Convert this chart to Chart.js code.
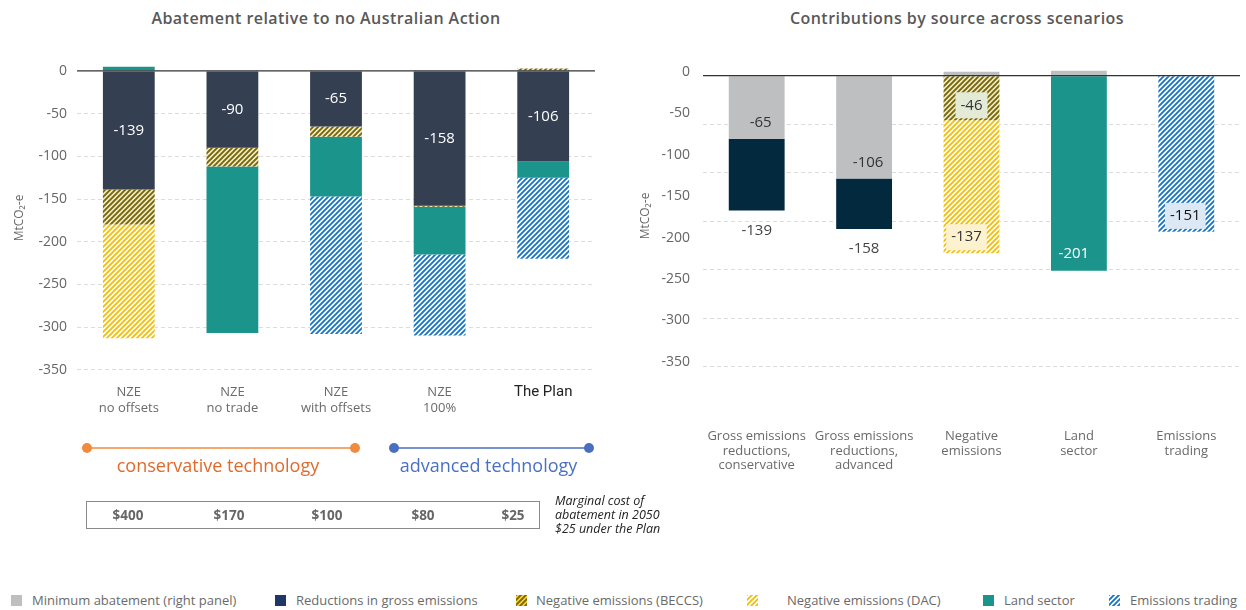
<!DOCTYPE html>
<html><head><meta charset="utf-8">
<script src="https://cdn.jsdelivr.net/npm/chart.js@4.4.1/dist/chart.umd.min.js"></script>
<style>
html,body{margin:0;padding:0;background:#fff;width:1246px;height:610px;overflow:hidden;font-family:"Open Sans",sans-serif;}
#wrap{position:relative;width:1246px;height:610px;}
.abs{position:absolute;}
.title{position:absolute;top:7px;font-size:16px;font-weight:600;color:#585858;white-space:nowrap;transform:translateX(-50%);letter-spacing:0.45px;}
.lg-sw{position:absolute;top:595px;width:11px;height:11px;}
.lg-tx{position:absolute;top:591px;font-size:13px;color:#6a6a6a;white-space:nowrap;line-height:18px;}
</style></head>
<body><div id="wrap">
<div class="title" style="left:326px">Abatement relative to no Australian Action</div>
<div class="title" style="left:957px">Contributions by source across scenarios</div>
<div class="abs" style="left:0;top:0;width:610px;height:430px"><canvas id="left"></canvas></div>
<div class="abs" style="left:620px;top:0;width:626px;height:480px"><canvas id="right"></canvas></div>
<svg class="abs" style="left:0;top:0" width="700" height="560" id="annot"></svg>
<div id="legend"></div>
</div>
<script>
// ---------- DATA ----------
const legendLabels = ["Minimum abatement (right panel)","Reductions in gross emissions","Negative emissions (BECCS)","Negative emissions (DAC)","Land sector","Emissions trading"];

const leftCategories = [["NZE","no offsets"],["NZE","no trade"],["NZE","with offsets"],["NZE","100%"],"The Plan"];
const leftGross   = [-139, -90, -65, -158, -106];
const leftBECCS   = [-41, -22, -12, -1, 3];
const leftDAC     = [-133, null, null, null, null];
const leftLand    = [5, -195, -70, -56, -19];
const leftTrading = [null, null, -161, -95, -95];
const leftTickValues = [0,-50,-100,-150,-200,-250,-300,-350];

const rightCategories = [["Gross emissions","reductions,","conservative"],["Gross emissions","reductions,","advanced"],["Negative","emissions"],["Land","sector"],["Emissions","trading"]];
const rightMinimum = [-65, -106, 4, 5, null];
const rightGross   = [-74, -52, null, null, null];
const rightBECCS   = [null, null, -46, null, null];
const rightDAC     = [null, null, -137, null, null];
const rightLand    = [null, null, null, -201, null];
const rightTrading = [null, null, null, null, -161];
const rightTradingLabel = [null, null, null, null, -151];
const rightTickLabels = [0,-50,-100,-150,-200,-250,-300,-350];
const rightGridValues = [0,-50,-100,-150,-200,-250,-300];

const techGroups = ["conservative technology","advanced technology"];
const costLabels = ["$400","$170","$100","$80","$25"];
const costNote = ["Marginal cost of","abatement in 2050","$25 under the Plan"];

// ---------- STYLE ----------
const FONT = '"Open Sans", sans-serif';
function hatch(fg, bg, size, lw){
  const c=document.createElement('canvas'); c.width=c.height=size;
  const g=c.getContext('2d');
  g.fillStyle=bg; g.fillRect(0,0,size,size);
  g.strokeStyle=fg; g.lineWidth=lw;
  g.beginPath();
  g.moveTo(-1,size+1); g.lineTo(size+1,-1);
  g.moveTo(-size/2-1,size/2+1); g.lineTo(size/2+1,-size/2-1);
  g.moveTo(size/2-1,size*1.5+1); g.lineTo(size*1.5+1,size/2-1);
  g.stroke();
  return g;
}
function pat(fg,bg){ const g=hatch(fg,bg,5,1.9); return g.createPattern(g.canvas,'repeat'); }
const C = {
  gray:'#bebfc1', grossL:'#353f52', grossR:'#03293f', grossLegend:'#1e3764', land:'#1b958b',
  beccs: pat('#7c6403','#e9edcc'), dac: pat('#f4bf0a','#ffffff'), trade: pat('#1a74c6','#ffffff')
};
Chart.defaults.font.family = FONT;
Chart.defaults.animation = false;

const zeroLine = {
  id:'zeroLine',
  afterDatasetsDraw(chart){
    const y = chart.scales.y.getPixelForValue(0), a = chart.chartArea, ctx = chart.ctx;
    ctx.save(); ctx.strokeStyle='#333'; ctx.lineWidth=1.3;
    ctx.beginPath(); ctx.moveTo(a.left,y); ctx.lineTo(a.right,y); ctx.stroke(); ctx.restore();
  }
};
const gridColor = c => (c.tick && c.tick.value===0) ? 'rgba(0,0,0,0)' : '#dcdcdc';
const fixX = h => s => { s.height=h; s.paddingLeft=0; s.paddingRight=0; };

// ---------- LEFT CHART ----------
const leftLabels = {
  id:'leftLabels',
  afterDatasetsDraw(chart){
    const ctx=chart.ctx, meta=chart.getDatasetMeta(0);
    ctx.save(); ctx.fillStyle='#fff'; ctx.font='500 15px '+FONT; ctx.textAlign='center'; ctx.textBaseline='middle';
    meta.data.forEach((el,i)=>{ const v=leftGross[i]; if(v==null) return; ctx.fillText(String(v), el.x, (el.y+el.base)/2); });
    ctx.restore();
  }
};
new Chart(document.getElementById('left'), {
  type:'bar',
  data:{ labels:leftCategories, datasets:[
    {label:legendLabels[1], data:leftGross, backgroundColor:C.grossL},
    {label:legendLabels[2], data:leftBECCS, backgroundColor:C.beccs},
    {label:legendLabels[3], data:leftDAC, backgroundColor:C.dac},
    {label:legendLabels[4], data:leftLand, backgroundColor:C.land},
    {label:legendLabels[5], data:leftTrading, backgroundColor:C.trade}
  ]},
  options:{
    responsive:true, maintainAspectRatio:false,
    layout:{padding:{top:62,right:15,bottom:0,left:0}},
    datasets:{bar:{barPercentage:0.5, categoryPercentage:1, borderWidth:0}},
    plugins:{legend:{display:false}, tooltip:{enabled:false}},
    scales:{
      x:{stacked:true, grid:{display:false, drawTicks:false}, border:{display:false},
         afterFit:fixX(56),
         ticks:{padding:10, autoSkip:false, maxRotation:0,
           color:c=>c.index===4?'#222':'#6a6a6a',
           font:c=>c.index===4?{family:'Roboto, sans-serif',size:15,lineHeight:1.1}:{family:FONT,size:13,lineHeight:1.25}}},
      y:{stacked:true, min:-355, max:10.5,
         afterBuildTicks:s=>{s.ticks=leftTickValues.map(v=>({value:v}));},
         afterFit:s=>{s.width=77;},
         grid:{color:gridColor, drawTicks:false, lineWidth:1},
         border:{display:false, dash:[4,3]},
         ticks:{padding:10, color:'#666', font:{size:14}},
         title:{display:true, text:'MtCO₂-e', color:'#666', font:{size:12}, padding:{top:12,bottom:0}}}
    }
  },
  plugins:[zeroLine, leftLabels]
});

// ---------- RIGHT CHART ----------
function drawBoxLabel(ctx, text, x, y, color, box){
  ctx.font='15px '+FONT;
  if(box){ const w=ctx.measureText(text).width+10; ctx.fillStyle=box; ctx.fillRect(x-w/2, y-13, w, 26); }
  ctx.fillStyle=color; ctx.fillText(text, x, y);
}
const rightLabels = {
  id:'rightLabels',
  afterDatasetsDraw(chart){
    const ctx=chart.ctx; ctx.save(); ctx.textAlign='center'; ctx.textBaseline='middle';
    const m = i => chart.getDatasetMeta(i).data;
    m(0).forEach((el,i)=>{ const v=rightMinimum[i]; if(v!=null && v<0) drawBoxLabel(ctx,String(v),el.x+4,el.y-16,'#333',null); });
    m(1).forEach((el,i)=>{ const v=rightGross[i]; if(v!=null) drawBoxLabel(ctx,String(v+rightMinimum[i]),el.x,el.y+20,'#444',null); });
    m(2).forEach((el,i)=>{ const v=rightBECCS[i]; if(v!=null) drawBoxLabel(ctx,String(v),el.x,el.y-15,'#333','#e3ebd7'); });
    m(3).forEach((el,i)=>{ const v=rightDAC[i]; if(v!=null) drawBoxLabel(ctx,String(v),el.x-5,el.y-16,'#333','#fdf2d0'); });
    m(4).forEach((el,i)=>{ const v=rightLand[i]; if(v!=null) drawBoxLabel(ctx,String(v),el.x-5,el.y-17,'#fff',null); });
    m(5).forEach((el,i)=>{ const v=rightTradingLabel[i]; if(v!=null) drawBoxLabel(ctx,String(v),el.x-1,el.y-16,'#111','#dde8f5'); });
    ctx.restore();
  }
};
new Chart(document.getElementById('right'), {
  type:'bar',
  data:{ labels:rightCategories, datasets:[
    {label:legendLabels[0], data:rightMinimum, backgroundColor:C.gray},
    {label:legendLabels[1], data:rightGross, backgroundColor:C.grossR},
    {label:legendLabels[2], data:rightBECCS, backgroundColor:C.beccs},
    {label:legendLabels[3], data:rightDAC, backgroundColor:C.dac},
    {label:legendLabels[4], data:rightLand, backgroundColor:C.land},
    {label:legendLabels[5], data:rightTrading, backgroundColor:C.trade}
  ]},
  options:{
    responsive:true, maintainAspectRatio:false,
    layout:{padding:{top:62,right:6,bottom:0,left:0}},
    datasets:{bar:{barPercentage:0.52, categoryPercentage:1, borderWidth:0}},
    plugins:{legend:{display:false}, tooltip:{enabled:false}},
    scales:{
      x:{stacked:true, grid:{display:false, drawTicks:false}, border:{display:false},
         afterFit:fixX(110),
         ticks:{padding:59, autoSkip:false, maxRotation:0, color:'#6a6a6a', font:{size:13, lineHeight:1.12}}},
      y:{stacked:true, min:-303.4, max:14.1, position:'left', weight:1,
         afterBuildTicks:s=>{s.ticks=rightGridValues.map(v=>({value:v}));},
         afterFit:s=>{s.width=0;},
         grid:{color:gridColor, drawTicks:false, lineWidth:1},
         border:{display:false, dash:[4,3]},
         ticks:{display:false}},
      yl:{min:-359.9, max:12.08, position:'left', weight:0,
         afterBuildTicks:s=>{s.ticks=rightTickLabels.map(v=>({value:v}));},
         afterFit:s=>{s.width=83;},
         grid:{display:false, drawTicks:false}, border:{display:false},
         ticks:{padding:13, color:'#666', font:{size:14}},
         title:{display:true, text:'MtCO₂-e', color:'#666', font:{size:12}, padding:{top:18,bottom:0}}}
    }
  },
  plugins:[zeroLine, rightLabels]
});

// ---------- ANNOTATIONS (left panel) ----------
(function(){
  const svg=document.getElementById('annot'), NS='http://www.w3.org/2000/svg';
  const el=(t,a,txt)=>{const e=document.createElementNS(NS,t); for(const k in a) e.setAttribute(k,a[k]); if(txt!=null) e.textContent=txt; svg.appendChild(e); return e;};
  const groups=[{x1:87,x2:355,line:'#f08b3e',text:'#df6a2e'},{x1:394,x2:589,line:'#4a6fc0',text:'#4a70c4'}];
  groups.forEach((g,i)=>{
    el('line',{x1:g.x1,y1:448,x2:g.x2,y2:448,stroke:g.line,'stroke-width':1.5});
    el('circle',{cx:g.x1,cy:448,r:5,fill:g.line}); el('circle',{cx:g.x2,cy:448,r:5,fill:g.line});
    el('text',{x:(g.x1+g.x2)/2-3,y:472,'text-anchor':'middle',fill:g.text,'font-size':18,'font-family':FONT},techGroups[i]);
  });
  el('rect',{x:86.5,y:501.5,width:453,height:27,fill:'none',stroke:'#8a8a8a','stroke-width':1});
  const cx=[128,229,327,423,513];
  costLabels.forEach((t,i)=>el('text',{x:cx[i],y:520,'text-anchor':'middle',fill:'#666','font-size':13.5,'font-weight':700,'font-family':FONT},t));
  costNote.forEach((t,i)=>el('text',{x:555,y:504.5+i*14,fill:'#222','font-size':12.5,'font-style':'italic','font-family':FONT},t));
})();

// ---------- LEGEND ----------
(function(){
  const lg=document.getElementById('legend');
  const fills=[C.gray,C.grossLegend,'beccs','dac',C.land,'trade'];
  const sx=[11,275,516,747,983,1109], tx=[32,296,536,787,1004,1130];
  const pats={beccs:['#7c6403','#f4d23a'],dac:['#f4bf0a','#ffffff'],trade:['#1a74c6','#ffffff']};
  legendLabels.forEach((t,i)=>{
    const c=document.createElement('canvas'); c.width=11; c.height=11; c.className='lg-sw'; c.style.left=sx[i]+'px';
    const g=c.getContext('2d');
    if(pats[fills[i]]){ const h=hatch(pats[fills[i]][0],pats[fills[i]][1],5,1.9); g.fillStyle=g.createPattern(h.canvas,'repeat'); }
    else g.fillStyle=fills[i];
    g.fillRect(0,0,11,11); lg.appendChild(c);
    const s=document.createElement('div'); s.className='lg-tx'; s.style.left=tx[i]+'px'; s.textContent=t; lg.appendChild(s);
  });
})();
</script>
</body></html>
